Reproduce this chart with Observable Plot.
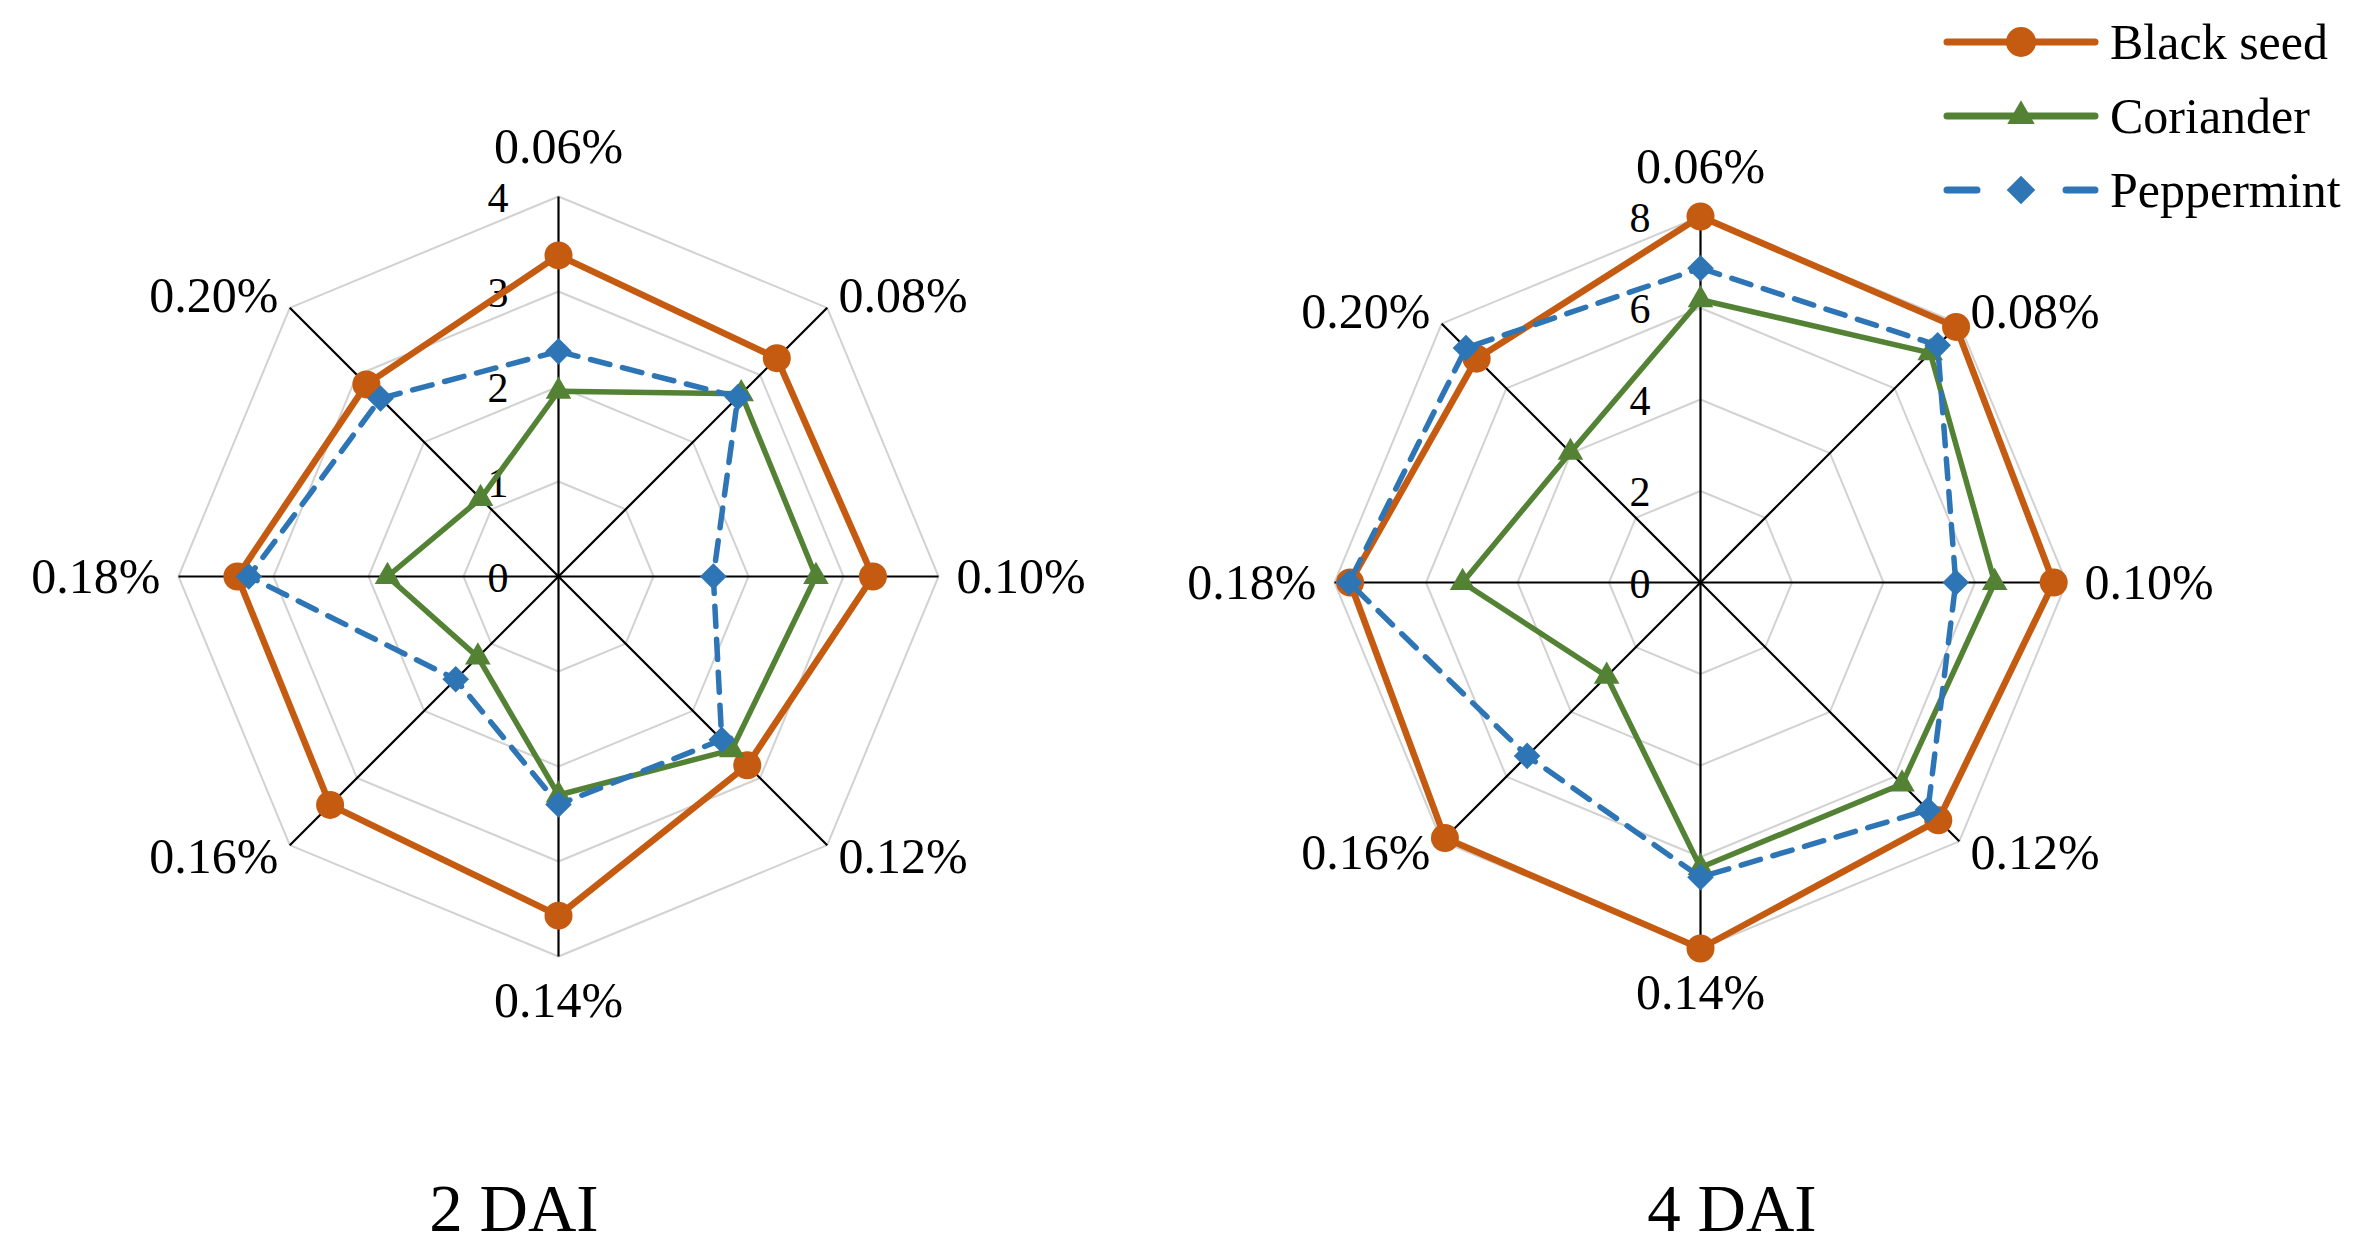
<!DOCTYPE html>
<html>
<head>
<meta charset="utf-8">
<script src="https://cdn.jsdelivr.net/npm/d3@7"></script>
<script src="https://cdn.jsdelivr.net/npm/@observablehq/plot@0.6"></script>
<style>
html, body { margin: 0; padding: 0; background: #fff; }
#page { position: relative; width: 2362px; height: 1247px; overflow: hidden; background: #fff;
  font-family: "Liberation Serif", "Times New Roman", serif; color: #000; }
.title { position: absolute; top: 1180px; width: 400px; text-align: center; font-size: 67px; line-height: 56px; }
#legend { position: absolute; left: 1940px; top: 5px; }
.row { display: flex; align-items: center; height: 74px; font-size: 50px; line-height: 50px; }
.row svg { display: block; margin-right: 5px; }
</style>
</head>
<body>
<div id="page"></div>
<script>
// ---------------- data ----------------
const categories = ["0.06%", "0.08%", "0.10%", "0.12%", "0.14%", "0.16%", "0.18%", "0.20%"];
const seriesNames = ["Black seed", "Coriander", "Peppermint"];

// 2 DAI
const dai2BlackSeed  = [3.38, 3.25, 3.31, 2.81, 3.57, 3.40, 3.38, 2.86];
const dai2Coriander  = [1.95, 2.72, 2.71, 2.58, 2.30, 1.20, 1.80, 1.16];
const dai2Peppermint = [2.37, 2.67, 1.63, 2.43, 2.40, 1.53, 3.26, 2.65];
const dai2Ticks = [0, 1, 2, 3, 4];

// 4 DAI
const dai4BlackSeed  = [8.00, 7.90, 7.72, 7.35, 8.00, 7.90, 7.66, 6.92];
const dai4Coriander  = [6.18, 7.10, 6.43, 6.23, 6.23, 2.90, 5.20, 4.02];
const dai4Peppermint = [6.87, 7.33, 5.58, 7.03, 6.44, 5.36, 7.68, 7.25];
const dai4Ticks = [0, 2, 4, 6, 8];

const panelTitles = ["2 DAI", "4 DAI"];

// ---------------- styles ----------------
const seriesColors = ["#C55A11", "#548235", "#2E75B6"];
const seriesSymbols = ["circle", "triangle", "diamond2"];
const seriesR = [14, 9.5, 12];
const seriesWidth = [6.5, 5.5, 5.5];
const seriesDash = [null, null, "20,13"];
const FONT = "'Liberation Serif', 'Times New Roman', serif";

const page = document.getElementById("page");

function radar({values, ticks, R, cx, cy, width, height, left, top}) {
  const max = ticks[ticks.length - 1];
  const k = R / max;
  const n = categories.length;
  const ang = i => i * 2 * Math.PI / n;
  const pts = [];
  values.forEach((vals, s) => vals.forEach((v, i) => pts.push({
    series: seriesNames[s], cat: categories[i], value: v,
    x: v * Math.sin(ang(i)), y: v * Math.cos(ang(i))
  })));
  const rings = ticks.filter(t => t > 0).flatMap(t => categories.map((c, i) => ({
    t, x: t * Math.sin(ang(i)), y: t * Math.cos(ang(i))
  })));
  const spokes = categories.map((c, i) => ({
    cat: c, x1: 0, y1: 0, x2: max * Math.sin(ang(i)), y2: max * Math.cos(ang(i))
  }));
  const labels = categories.map((c, i) => {
    const a = ang(i);
    const s = Math.sin(a);
    const side = Math.abs(s) < 1e-6 ? "middle" : (s > 0 ? "start" : "end");
    const horiz = Math.abs(Math.cos(a)) < 1e-6;
    const off = side === "middle" ? (Math.cos(a) > 0 ? 50 : 44) : (horiz ? 18 : 16);
    const r = max + off / k;
    return {cat: c, side, x: r * Math.sin(a), y: r * Math.cos(a)};
  });

  const marks = [
    Plot.line(rings, {x: "x", y: "y", z: "t", curve: "linear-closed", stroke: "#d2d2d2", strokeWidth: 2}),
    Plot.link(spokes, {x1: "x1", y1: "y1", x2: "x2", y2: "y2", stroke: "#000", strokeWidth: 2.2}),
    Plot.text(ticks, {x: () => 0, y: d => d, text: d => String(d), dx: -50, dy: 2, textAnchor: "end",
      fontSize: 42, fontFamily: FONT, fill: "#000"}),
    ...["start", "middle", "end"].map(side => Plot.text(labels.filter(d => d.side === side), {
      x: "x", y: "y", text: "cat", textAnchor: side, fontSize: 50, fontFamily: FONT, fill: "#000"
    }))
  ];
  seriesNames.forEach((name, s) => {
    const d = pts.filter(p => p.series === name);
    marks.push(Plot.line(d, {x: "x", y: "y", curve: "linear-closed", stroke: seriesColors[s],
      strokeWidth: seriesWidth[s], strokeDasharray: seriesDash[s], strokeLinejoin: "round"}));
    marks.push(Plot.dot(d, {x: "x", y: "y", symbol: seriesSymbols[s], r: seriesR[s],
      fill: seriesColors[s], stroke: "none"}));
  });

  const svg = Plot.plot({
    width, height,
    marginTop: 0, marginRight: 0, marginBottom: 0, marginLeft: 0,
    x: {domain: [-cx / k, (width - cx) / k], axis: null},
    y: {domain: [-(height - cy) / k, cy / k], axis: null},
    style: {position: "absolute", left: left + "px", top: top + "px", overflow: "visible",
      background: "transparent", fontFamily: FONT, maxWidth: "none"},
    marks
  });
  page.appendChild(svg);
}

radar({values: [dai2BlackSeed, dai2Coriander, dai2Peppermint], ticks: dai2Ticks,
  R: 380, cx: 558, cy: 576, width: 1116, height: 1152, left: 0, top: 0});
radar({values: [dai4BlackSeed, dai4Coriander, dai4Peppermint], ticks: dai4Ticks,
  R: 366, cx: 560, cy: 582, width: 1120, height: 1164, left: 1140, top: 0});

// titles
[[panelTitles[0], 314], [panelTitles[1], 1532]].forEach(([t, l]) => {
  const d = document.createElement("div");
  d.className = "title";
  d.style.left = l + "px";
  d.textContent = t;
  page.appendChild(d);
});

// legend
const legend = document.createElement("div");
legend.id = "legend";
const NS = "http://www.w3.org/2000/svg";
seriesNames.forEach((name, s) => {
  const row = document.createElement("div");
  row.className = "row";
  const sw = document.createElementNS(NS, "svg");
  sw.setAttribute("width", 165);
  sw.setAttribute("height", 40);
  const ln = document.createElementNS(NS, "line");
  ln.setAttribute("x1", 7); ln.setAttribute("x2", 155);
  ln.setAttribute("y1", 20); ln.setAttribute("y2", 20);
  ln.setAttribute("stroke", seriesColors[s]);
  ln.setAttribute("stroke-width", 7);
  ln.setAttribute("stroke-linecap", "round");
  if (s === 2) ln.setAttribute("stroke-dasharray", "30,89");
  sw.appendChild(ln);
  const sym = d3.symbol(s === 0 ? d3.symbolCircle : s === 1 ? d3.symbolTriangle : d3.symbolDiamond2,
    Math.PI * seriesR[s] * seriesR[s] * 1.15);
  const p = document.createElementNS(NS, "path");
  p.setAttribute("d", sym());
  p.setAttribute("transform", "translate(81,20)");
  p.setAttribute("fill", seriesColors[s]);
  sw.appendChild(p);
  row.appendChild(sw);
  const tx = document.createElement("span");
  tx.textContent = name;
  row.appendChild(tx);
  legend.appendChild(row);
});
page.appendChild(legend);
</script>
</body>
</html>
